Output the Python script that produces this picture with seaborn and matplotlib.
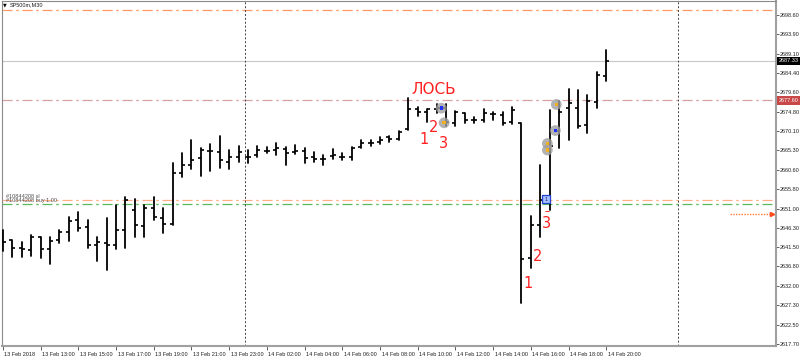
import numpy as np
import pandas as pd
import matplotlib
matplotlib.use("Agg")
import matplotlib.pyplot as plt
import seaborn as sns
from matplotlib import font_manager
from matplotlib.transforms import ScaledTranslation

# ---------------- data ----------------
opens = [2643.1, 2643.3, 2641.2, 2640.8, 2643.9, 2641.1, 2643.3, 2645.2, 2648.2, 2646.6,
         2642.0, 2642.6, 2642.0, 2645.7, 2650.6, 2646.7, 2651.1, 2648.6, 2647.2, 2659.8,
         2661.7, 2663.5, 2665.2, 2665.0, 2662.5, 2663.6, 2663.6, 2664.2, 2665.2, 2665.4,
         2665.6, 2664.8, 2665.2, 2663.8, 2663.3, 2663.9, 2663.8, 2663.6, 2666.1, 2667.2,
         2667.4, 2668.5, 2668.0, 2670.5, 2675.6, 2674.8, 2675.4, 2675.7, 2672.1, 2674.4,
         2672.8, 2672.9, 2674.3, 2674.0, 2672.4, 2672.1, 2638.8, 2647.0, 2653.1, 2670.0,
         2675.7, 2675.7, 2671.5, 2677.3, 2683.6]
highs = [2645.7, 2643.4, 2642.9, 2644.5, 2644.0, 2643.9, 2645.7, 2649.0, 2650.2, 2648.2,
         2643.9, 2648.6, 2651.9, 2653.9, 2653.3, 2651.9, 2653.8, 2651.1, 2662.1, 2664.7,
         2667.9, 2665.8, 2667.0, 2668.9, 2665.4, 2666.4, 2665.4, 2666.4, 2666.1, 2667.2,
         2666.1, 2666.6, 2665.8, 2664.8, 2664.3, 2665.6, 2664.6, 2666.1, 2667.9, 2667.9,
         2668.5, 2668.8, 2670.2, 2678.1, 2676.1, 2675.6, 2676.6, 2676.8, 2675.1, 2674.6,
         2673.6, 2675.4, 2674.8, 2674.8, 2676.1, 2672.1, 2649.2, 2661.7, 2675.2, 2677.5,
         2680.3, 2680.2, 2678.9, 2684.7, 2689.9]
lows = [2640.6, 2639.0, 2639.0, 2639.3, 2638.8, 2637.5, 2642.5, 2643.1, 2645.5, 2641.2,
        2638.2, 2635.9, 2641.0, 2641.4, 2644.1, 2644.1, 2648.2, 2645.1, 2647.0, 2658.7,
        2660.7, 2659.0, 2660.3, 2661.1, 2660.7, 2662.5, 2662.1, 2663.8, 2664.6, 2664.2,
        2661.7, 2664.4, 2662.3, 2662.5, 2661.7, 2663.2, 2662.9, 2662.9, 2665.8, 2666.4,
        2666.9, 2667.5, 2667.9, 2670.3, 2673.8, 2672.4, 2674.4, 2671.3, 2671.3, 2672.0,
        2672.0, 2672.4, 2672.8, 2671.5, 2671.8, 2627.7, 2636.5, 2644.0, 2650.6, 2665.9,
        2667.9, 2670.8, 2669.5, 2675.7, 2682.4]
closes = [2642.9, 2641.2, 2641.0, 2644.1, 2641.1, 2643.1, 2645.3, 2648.0, 2646.3, 2642.0,
          2642.9, 2642.0, 2645.7, 2653.1, 2647.0, 2651.1, 2648.9, 2647.2, 2659.8, 2661.7,
          2662.9, 2665.4, 2665.2, 2662.9, 2663.8, 2665.0, 2663.6, 2665.4, 2665.2, 2665.8,
          2664.6, 2665.2, 2663.4, 2663.3, 2663.1, 2664.2, 2663.6, 2665.8, 2667.2, 2667.2,
          2667.9, 2668.0, 2669.9, 2675.6, 2674.8, 2675.4, 2675.7, 2672.3, 2674.8, 2672.9,
          2672.8, 2674.4, 2674.3, 2672.1, 2675.2, 2638.5, 2647.0, 2653.1, 2666.3, 2674.8,
          2677.0, 2671.3, 2677.5, 2683.8, 2687.33]

time_labels = ['13 Feb 2018', '13 Feb 13:00', '13 Feb 15:00', '13 Feb 17:00', '13 Feb 19:00',
               '13 Feb 21:00', '13 Feb 23:00', '14 Feb 02:00', '14 Feb 04:00', '14 Feb 06:00',
               '14 Feb 08:00', '14 Feb 10:00', '14 Feb 12:00', '14 Feb 14:00', '14 Feb 16:00',
               '14 Feb 18:00', '14 Feb 20:00']
label_bars = [0, 4, 8, 12, 16, 20, 24, 28, 32, 36, 40, 44, 48, 52, 56, 60, 64]
price_ticks = [2698.60, 2693.90, 2689.10, 2684.40, 2679.60, 2674.80, 2670.10, 2665.30,
               2660.60, 2655.80, 2651.00, 2646.30, 2641.50, 2636.80, 2632.00, 2627.30,
               2622.50, 2617.70]

bid_price = 2687.33
resistance = 2677.60
tp_level = 2699.8
sl_level = 2653.1
buy_level = 2652.1
pending_level = 2649.7
day_separators = [25.7, 71.6]

# wave annotations (bar position, price, text)
wave_bars = [45.7, 44.7, 45.7, 46.7, 55.7, 56.7, 57.7]
wave_prices = [2680.3, 2667.9, 2671.0, 2666.9, 2632.6, 2639.2, 2647.4]
wave_texts = ['ЛОСЬ', '1', '2', '3', '1', '2', '3']

# trade event marks
mark_bars = [46.5, 46.8, 58.7, 58.6, 57.75, 57.75]
mark_prices = [2675.7, 2672.1, 2676.6, 2670.2, 2667.0, 2665.4]
mark_kinds = ['blue', 'orange', 'orange', 'blue', 'orange', 'orange']
entry_bar = 57.6
entry_price = 2653.3

# ---------------- styling ----------------
sns.set_theme(style="white")
names = {f.name for f in font_manager.fontManager.ttflist}
if 'Liberation Sans Narrow' in names:
    small_fam, small_size = 'Liberation Sans Narrow', 4.8
elif 'Liberation Sans' in names:
    small_fam, small_size = 'Liberation Sans', 3.95
else:
    small_fam, small_size = 'DejaVu Sans', 3.5
plt.rcParams['font.family'] = [small_fam, 'DejaVu Sans']

W, H = 800, 358
fig = plt.figure(figsize=(W / 100, H / 100), dpi=100)
fig.patch.set_facecolor('white')
ax = fig.add_axes([1.5 / W, (H - 345.5) / H, 774.5 / W, 345 / H])
ax.set_facecolor('white')

n = len(opens)
idx = np.arange(n)
df = pd.DataFrame({
    'bar': np.repeat(idx, 2),
    'x': np.repeat(idx, 2).astype(float),
    'price': np.ravel(np.column_stack([lows, highs])),
})

# level lines
dashdot = (0, (8, 3, 2, 3))
ax.axhline(tp_level, color='#ff9a66', lw=0.9, ls=dashdot, zorder=1)
ax.axhline(bid_price, color='#c8c8c8', lw=0.8, zorder=1)
ax.axhline(resistance, color='#d8a0a0', lw=0.9, ls=dashdot, zorder=1)
ax.axhline(sl_level, color='#ffae88', lw=0.9, ls=dashdot, zorder=1)
ax.axhline(buy_level, color='#5cb85c', lw=0.9, ls=dashdot, zorder=1)
for s in day_separators:
    ax.axvline(s, color='#404040', lw=0.7, ls=(0, (2, 2)), zorder=1)

# pending arrow
ax.plot([77.1, 81.5], [pending_level, pending_level], color='#ff7a3a', lw=1.0, ls=(0, (1, 1)), zorder=2)
ax.plot([81.6], [pending_level], marker='>', color='#ff4a1a', ms=3, zorder=3)

# OHLC bars
sns.lineplot(data=df, x='x', y='price', units='bar', estimator=None, sort=False,
             color='black', linewidth=1.3, ax=ax, legend=False, zorder=4)
tick = 0.32
ax.hlines(opens, idx - tick, idx, color='black', lw=1.2, zorder=4)
ax.hlines(closes, idx, idx + tick, color='black', lw=1.2, zorder=4)

# trade marks
for b, p, kind in zip(mark_bars, mark_prices, mark_kinds):
    ax.scatter([b], [p], s=60, color='#a0a0a0', alpha=0.8, edgecolors='none', zorder=5)
    c = '#2030ff' if kind == 'blue' else '#f0b020'
    ax.scatter([b], [p], s=6, marker='s', color=c, edgecolors='none', zorder=6)
ax.scatter([entry_bar], [entry_price], s=38, marker='s', facecolor='#a8c0ff',
           edgecolors='#2040d0', linewidths=0.9, zorder=6)
ax.text(entry_bar, entry_price, '1', fontsize=4, color='#102080', ha='center', va='center', zorder=7)
ax.scatter([entry_bar + 0.1], [2650.5], s=10, marker='_', color='#ff3030', linewidths=0.8, zorder=6)

# wave text
for b, p, t in zip(wave_bars, wave_prices, wave_texts):
    ax.text(b, p, t, color='#ff2020', fontsize=11 if t == 'ЛОСЬ' else 10.5,
            ha='center', va='center', family=['DejaVu Sans'], zorder=7)

# order labels
ax.text(0.35, sl_level + 0.25, '#10844208 sl', fontsize=small_size, color='#505050', va='bottom', zorder=3)
ax.text(0.35, buy_level + 0.25, '#10844208 buy 1.00', fontsize=small_size, color='#505050', va='bottom', zorder=3)

# axes limits & ticks
ax.set_xlim(-0.15, 82.0)
ax.set_ylim(2617.34, 2702.17)
ax.set_xlabel('')
ax.set_ylabel('')
ax.yaxis.tick_right()
ax.set_yticks(price_ticks)
ax.set_yticklabels([f'{v:.2f}' for v in price_ticks])
ax.set_xticks(label_bars)
ax.set_xticklabels(time_labels, ha='left')
ax.tick_params(axis='y', which='both', right=True, left=False, direction='out', length=2,
               width=0.7, color='#606060', pad=0.6, labelsize=small_size, labelcolor='#202020')
ax.tick_params(axis='x', which='both', bottom=True, direction='out', length=3,
               width=0.7, color='#606060', pad=1.5, labelsize=small_size, labelcolor='#202020')
off = ScaledTranslation(1.5 / 100, 0, fig.dpi_scale_trans)
for lab in ax.get_xticklabels():
    lab.set_transform(lab.get_transform() + off)

for side in ['left', 'top']:
    ax.spines[side].set_color('#8a8a8a')
    ax.spines[side].set_linewidth(0.8)
for side in ['right', 'bottom']:
    ax.spines[side].set_color('#a0a0a0')
    ax.spines[side].set_linewidth(1.5)

# price boxes on the right axis
for val, bg in [(bid_price, 'black'), (resistance, '#c84848')]:
    ax.annotate(f'{val:.2f}', xy=(1.0, val), xycoords=('axes fraction', 'data'),
                xytext=(1.6, 0), textcoords='offset points', ha='left', va='center',
                fontsize=small_size, color='white',
                bbox=dict(boxstyle='square,pad=0.3', fc=bg, ec='none'), annotation_clip=False)

# header
fig.text(3 / W, 1 - 5 / H, '▼', fontsize=3.5, color='black', va='center', family=['DejaVu Sans'])
fig.text(10 / W, 1 - 5 / H, 'SP500m,M30', fontsize=small_size, color='#202020', va='center')

fig.savefig('out.png', dpi=100, facecolor='white')
